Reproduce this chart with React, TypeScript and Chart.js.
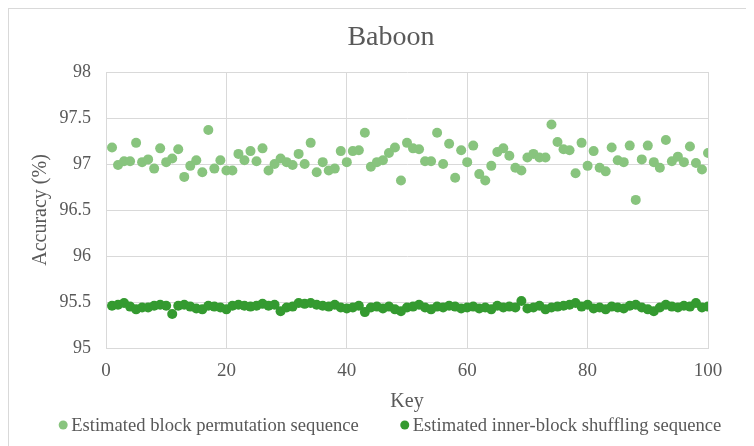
import React, { useEffect, useRef } from "react";
import { Chart, registerables } from "chart.js";

Chart.register(...registerables);

const TITLE = "Baboon";
const X_TITLE = "Key";
const Y_TITLE = "Accuracy (%)";
const SERIES_NAMES = ["Estimated block permutation sequence", "Estimated inner-block shuffling sequence"];

const KEYS = [
  1, 2, 3, 4, 5, 6, 7, 8, 9, 10, 11, 12, 13, 14, 15, 16, 17, 18, 19, 20,
  21, 22, 23, 24, 25, 26, 27, 28, 29, 30, 31, 32, 33, 34, 35, 36, 37, 38, 39, 40,
  41, 42, 43, 44, 45, 46, 47, 48, 49, 50, 51, 52, 53, 54, 55, 56, 57, 58, 59, 60,
  61, 62, 63, 64, 65, 66, 67, 68, 69, 70, 71, 72, 73, 74, 75, 76, 77, 78, 79, 80,
  81, 82, 83, 84, 85, 86, 87, 88, 89, 90, 91, 92, 93, 94, 95, 96, 97, 98, 99, 100,
];

const BLOCK_PERMUTATION = [
  97.18, 96.99, 97.03, 97.03, 97.23, 97.02, 97.05, 96.95, 97.17, 97.02,
  97.06, 97.16, 96.86, 96.98, 97.04, 96.91, 97.37, 96.95, 97.04, 96.93,
  96.93, 97.11, 97.04, 97.14, 97.03, 97.17, 96.93, 97.0, 97.06, 97.02,
  96.99, 97.11, 97.0, 97.23, 96.91, 97.02, 96.93, 96.95, 97.14, 97.02,
  97.14, 97.15, 97.34, 96.97, 97.02, 97.04, 97.12, 97.18, 96.82, 97.23,
  97.17, 97.16, 97.03, 97.03, 97.34, 97.0, 97.22, 96.85, 97.15, 97.02,
  97.2, 96.89, 96.82, 96.98, 97.13, 97.17, 97.09, 96.96, 96.93, 97.07,
  97.11, 97.07, 97.07, 97.43, 97.24, 97.16, 97.15, 96.9, 97.23, 96.98,
  97.14, 96.96, 96.92, 97.18, 97.04, 97.02, 97.2, 96.61, 97.05, 97.2,
  97.02, 96.96, 97.26, 97.03, 97.08, 97.02, 97.19, 97.01, 96.94, 97.12,
];

const INNER_SHUFFLING = [
  95.46, 95.47, 95.49, 95.45, 95.42, 95.44, 95.44, 95.46, 95.47, 95.46,
  95.37, 95.46, 95.47, 95.45, 95.43, 95.42, 95.46, 95.45, 95.44, 95.42,
  95.46, 95.47, 95.46, 95.45, 95.46, 95.48, 95.46, 95.47, 95.40, 95.44,
  95.45, 95.49, 95.48, 95.49, 95.47, 95.46, 95.45, 95.47, 95.44, 95.43,
  95.44, 95.46, 95.39, 95.44, 95.45, 95.43, 95.45, 95.42, 95.40, 95.44,
  95.45, 95.47, 95.44, 95.42, 95.45, 95.44, 95.46, 95.45, 95.43, 95.44,
  95.45, 95.43, 95.44, 95.42, 95.46, 95.44, 95.45, 95.44, 95.51, 95.43,
  95.44, 95.46, 95.42, 95.44, 95.45, 95.46, 95.47, 95.49, 95.45, 95.47,
  95.43, 95.44, 95.42, 95.45, 95.44, 95.43, 95.46, 95.47, 95.44, 95.42,
  95.40, 95.44, 95.47, 95.45, 95.44, 95.46, 95.45, 95.49, 95.44, 95.45,
];

const X_MIN = 0;
const X_MAX = 100;
const X_STEP = 20;
const Y_MIN = 95;
const Y_MAX = 98;
const Y_STEP = 0.5;

const LIGHT = "#88c47e";
const DARK = "#349a30";
const TEXT = "#595959";
const GRID = "#d9d9d9";
const FONT = "'Liberation Serif', 'Times New Roman', serif";

export default function App() {
  const ref = useRef<HTMLCanvasElement | null>(null);

  useEffect(() => {
    if (!ref.current) return;
    const decorPlugin = {
      id: "decor",
      afterDraw(chart: any) {
        const ctx = chart.ctx;
        ctx.save();
        // title
        ctx.font = `28px ${FONT}`;
        ctx.fillStyle = TEXT;
        ctx.textAlign = "center";
        ctx.textBaseline = "middle";
        ctx.fillText(TITLE, 382, 29);
        // legend
        ctx.font = `18.6px ${FONT}`;
        ctx.textAlign = "left";
        const r = 4.5;
        const gapText = 8;
        const gapItem = 46;
        const widths = chart.data.datasets.map((d: any) => ctx.measureText(d.label).width);
        const blockW = r + gapText + widths[0] + gapItem + gapText + widths[1];
        let x = 381 - blockW / 2 + r;
        const y = 416;
        chart.data.datasets.forEach((d: any, i: number) => {
          ctx.beginPath();
          ctx.fillStyle = d.backgroundColor;
          ctx.arc(x, y, r, 0, Math.PI * 2);
          ctx.fill();
          ctx.fillStyle = TEXT;
          ctx.fillText(d.label, x + gapText, y + 1);
          x += gapText + widths[i] + gapItem;
        });
        ctx.restore();
      },
    };
    const chart = new Chart(ref.current, {
      type: "scatter",
      data: {
        datasets: [
          {
            label: SERIES_NAMES[0],
            data: KEYS.map((k, i) => ({ x: k, y: BLOCK_PERMUTATION[i] })),
            backgroundColor: LIGHT,
            borderColor: LIGHT,
            pointRadius: 5,
            pointBorderWidth: 0,
          },
          {
            label: SERIES_NAMES[1],
            data: KEYS.map((k, i) => ({ x: k, y: INNER_SHUFFLING[i] })),
            backgroundColor: DARK,
            borderColor: DARK,
            pointRadius: 5,
            pointBorderWidth: 0,
          },
        ],
      },
      options: {
        animation: false,
        responsive: true,
        maintainAspectRatio: false,
        layout: { padding: { top: 63, left: 10, right: 46, bottom: 34 } },
        plugins: {
          title: { display: false },
          tooltip: { enabled: false },
          legend: { display: false },
        },
        scales: {
          x: {
            type: "linear",
            min: X_MIN,
            max: X_MAX,
            afterFit: (s: any) => {
              s.height = 64;
            },
            ticks: { stepSize: X_STEP, color: TEXT, padding: 12, font: { family: FONT, size: 19 } },
            grid: { color: GRID, drawTicks: false },
            border: { color: GRID },
            title: { display: true, text: X_TITLE, color: TEXT, padding: { top: 0, bottom: -2 }, font: { family: FONT, size: 20 } },
          },
          y: {
            min: Y_MIN,
            max: Y_MAX,
            afterFit: (s: any) => {
              s.width = 87;
            },
            ticks: {
              stepSize: Y_STEP,
              color: TEXT,
              padding: 15,
              font: { family: FONT, size: 18 },
              callback: (v: any) => String(Number(v)),
            },
            grid: { color: GRID, drawTicks: false },
            border: { color: GRID },
            title: { display: true, text: Y_TITLE, color: TEXT, padding: { top: 10, bottom: 0 }, font: { family: FONT, size: 20 } },
          },
        },
      },
      plugins: [decorPlugin],
    });
    return () => chart.destroy();
  }, []);

  return (
    <div style={{ position: "relative", width: 746, height: 438, borderTop: "1px solid #d9d9d9", borderLeft: "1px solid #d9d9d9", boxSizing: "border-box" }}>
      <canvas ref={ref} />
    </div>
  );
}
